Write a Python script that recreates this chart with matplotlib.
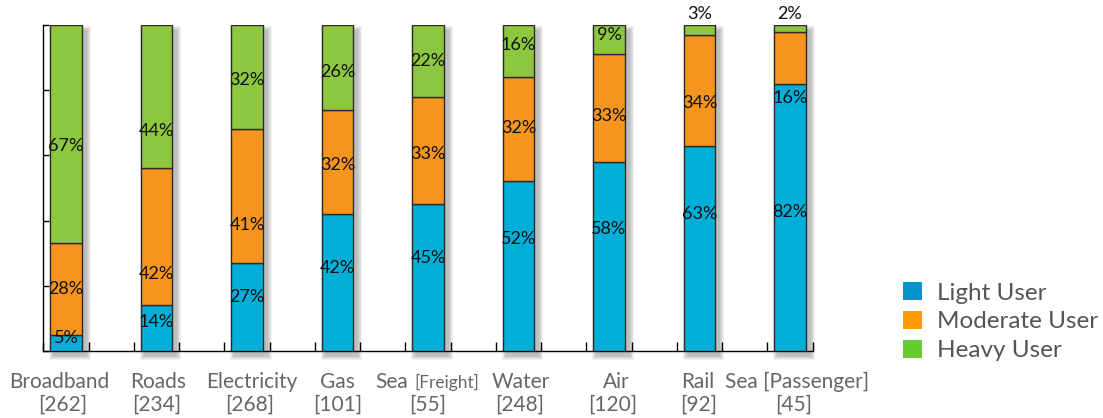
import numpy as np
import matplotlib
matplotlib.use("Agg")
import matplotlib.pyplot as plt
from matplotlib.patches import Rectangle, Patch

plt.rcParams['font.family'] = ['Lato', 'DejaVu Sans']

# 各类基础设施的用户构成（%）
categories = ['Broadband', 'Roads', 'Electricity', 'Gas', 'Sea [Freight]',
              'Water', 'Air', 'Rail', 'Sea [Passenger]']
counts = [262, 234, 268, 101, 55, 248, 120, 92, 45]
light = [5, 14, 27, 42, 45, 52, 58, 63, 82]
moderate = [28, 42, 41, 32, 33, 32, 33, 34, 16]
heavy = [67, 44, 32, 26, 22, 16, 9, 3, 2]

# 数值标签相对段中心的上下微调（%）
light_nudge = [1.5, 2, 3, 4.5, 6, 8.5, 8.5, 10.5, 1.5]
moderate_nudge = [0, -11.5, -9, -1, -1, 0.5, -2.5, -4, -12.5]
heavy_nudge = [-3.5, -10.5, -1, -1.5, 0, 2, 1.5, 0, 0]
# 类别名的水平微调（points）
name_dx = [-5, 1, 3.5, 0, -0.5, 2, 5, -1, 5]

bar_colors = ['#00AED8', '#F7941D', '#8DC63F']
legend_colors = ['#0096CC', '#FF9900', '#66CC33']
series_names = ['Light User', 'Moderate User', 'Heavy User']

W, H = 1103, 418
fig = plt.figure(figsize=(W / 100, H / 100), dpi=100)
ax = fig.add_axes([43 / W, 67 / H, 770 / W, 326 / H])

x = np.arange(len(categories))
width = 0.353
ax.set_xlim(-0.254, len(categories) - 1 + 0.254)
ax.set_ylim(0, 100)

# 柱子的柔和投影
px = (ax.get_xlim()[1] - ax.get_xlim()[0]) / 770
py = 100 / 326
totals = np.array(light) + np.array(moderate) + np.array(heavy)
for i in x:
    for r in range(1, 6):
        ax.add_patch(Rectangle((i - width / 2 + (4 - r) * px, -(4 + r) * py),
                               width + 2 * r * px, totals[i] + 2 * r * py - 2 * py,
                               facecolor='black', edgecolor='none', alpha=0.055,
                               zorder=1, clip_on=False))

bottom = np.zeros(len(categories))
for vals, nudge, col in zip([light, moderate, heavy],
                            [light_nudge, moderate_nudge, heavy_nudge], bar_colors):
    ax.bar(x, vals, width, bottom=bottom, color=col, edgecolor='#2a2a2a',
           linewidth=1, zorder=3)
    for i, v in enumerate(vals):
        if v < 5:
            ax.text(i, bottom[i] + v + 0.8, f'{v}%', ha='center', va='bottom',
                    fontsize=13, color='#111111', zorder=4)
        else:
            ax.text(i, bottom[i] + v / 2 + nudge[i], f'{v}%', ha='center',
                    va='center', fontsize=13, color='#111111', zorder=4)
    bottom += np.array(vals)

# 坐标轴
for s in ['top', 'right']:
    ax.spines[s].set_visible(False)
for s in ['left', 'bottom']:
    ax.spines[s].set_linewidth(1)
    ax.spines[s].set_color('black')
ax.set_xticks(np.sort(np.concatenate([x - 0.254, x + 0.254])))
ax.set_yticks([0, 20, 40, 60, 80, 100])
ax.tick_params(axis='x', direction='in', length=6.5, width=1, labelbottom=False)
ax.tick_params(axis='y', direction='in', length=4.5, width=1, labelleft=False)

# 类别名和样本量
renderer = fig.canvas.get_renderer()
txt_color = '#666666'
for i, name in enumerate(categories):
    dx = name_dx[i]
    if name == 'Sea [Freight]':
        main, sub = name.split(' ', 1)
        t1 = ax.annotate(main, xy=(i, 0), xycoords=('data', 'axes fraction'),
                         xytext=(0, -26.6), textcoords='offset points',
                         ha='left', va='baseline', fontsize=15, color=txt_color)
        t2 = ax.annotate(sub, xy=(i, 0), xycoords=('data', 'axes fraction'),
                         xytext=(0, -26.6), textcoords='offset points',
                         ha='left', va='baseline', fontsize=12.5, color=txt_color)
        w1 = t1.get_window_extent(renderer).width * 72 / fig.dpi
        w2 = t2.get_window_extent(renderer).width * 72 / fig.dpi
        gap = 4.5
        start = dx - (w1 + gap + w2) / 2
        t1.xyann = (start, -26.6)
        t2.xyann = (start + w1 + gap, -26.6)
    else:
        ax.annotate(name, xy=(i, 0), xycoords=('data', 'axes fraction'),
                    xytext=(dx, -26.6), textcoords='offset points',
                    ha='center', va='baseline', fontsize=15, color=txt_color)
    ax.annotate(f'[{counts[i]}]', xy=(i, 0), xycoords=('data', 'axes fraction'),
                xytext=(dx / 2, -43.2), textcoords='offset points',
                ha='center', va='baseline', fontsize=15, color=txt_color)

handles = [Patch(facecolor=c, edgecolor='none') for c in legend_colors]
fig.legend(handles, series_names, loc='upper left',
           bbox_to_anchor=(903 / W, 1 - 282 / H), frameon=False, fontsize=17.5,
           handlelength=0.78, handleheight=0.78, handletextpad=0.62,
           labelspacing=0.3, borderpad=0, borderaxespad=0, labelcolor='#555555')

fig.savefig('out.png', dpi=100)
